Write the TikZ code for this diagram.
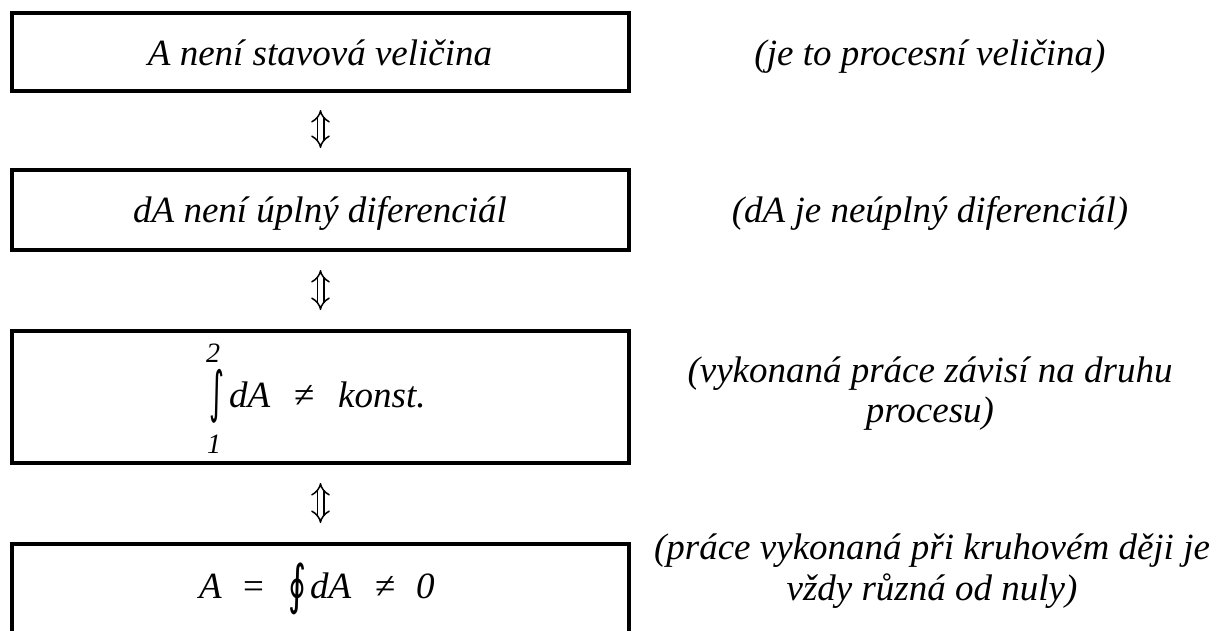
\documentclass[tikz,border=0pt]{standalone}
\usepackage{graphicx}
\usepackage{fontspec}
\setmainfont{Liberation Serif}
\newfontfamily\symfont{DejaVu Sans}
\usetikzlibrary{arrows.meta}
\begin{document}
\begin{tikzpicture}[x=1pt,y=-1pt,
  box/.style={draw, line width=4pt, minimum width=617pt, inner sep=0pt, outer sep=0pt},
  txt/.style={font=\fontsize{37}{42}\selectfont\itshape, inner sep=0pt, anchor=base},
  txtw/.style={font=\fontsize{37}{42}\selectfont\itshape, inner sep=0pt, anchor=base west},
  rmw/.style={font=\fontsize{37}{42}\selectfont, inner sep=0pt, anchor=base west},
  lim/.style={font=\fontsize{28}{32}\selectfont\itshape, inner sep=0pt, anchor=base west},
  intg/.style={inner sep=0pt, anchor=center},
  equiv/.style={double, double distance=5pt, line width=1.5pt, {Implies}-{Implies}}
]
\useasboundingbox (0,0) rectangle (1216,630);
\clip (0,0) rectangle (1216,630);
\fill[white] (0,0) rectangle (1216,630);

% boxes
\node[box, minimum height=78pt]  (b1) at (320.5,52) {};
\node[box, minimum height=80pt]  (b2) at (320.5,210) {};
\node[box, minimum height=132pt] (b3) at (320.5,397) {};
\node[box, minimum height=132pt] (b4) at (320.5,610) {};

% box texts
\node[txt] (t1) at (320,65) {A není stavová veličina};
\node[txt] (t2) at (320,222) {dA není úplný diferenciál};

% box 3 formula
\node[lim]  (u3) at (206,362) {2};
\node[intg] (i3) at (217,396.5) {\resizebox*{15pt}{54pt}{\symfont ∫}};
\node[lim]  (l3) at (207,453) {1};
\node[txtw] (d3) at (229,407) {dA};
\node[rmw]  (n3) at (294,407) {≠};
\node[txtw] (k3) at (338,407) {konst.};

% box 4 formula
\node[txtw] (a4) at (199,598) {A};
\node[rmw]  (e4) at (243,598) {=};
\node[intg] (i4) at (297,589) {\resizebox*{18pt}{52pt}{\symfont ∮}};
\node[txtw] (d4) at (310,598) {dA};
\node[rmw]  (n4) at (375,598) {≠};
\node[txtw] (z4) at (416,598) {0};

% notes
\node[txt] (r1)  at (930,65)  {(je to procesní veličina)};
\node[txt] (r2)  at (930,222) {(dA je neúplný diferenciál)};
\node[txt] (r3a) at (930,382) {(vykonaná práce závisí na druhu};
\node[txt] (r3b) at (930,422) {procesu)};
\node[txt] (r4a) at (932,559) {(práce vykonaná při kruhovém ději je};
\node[txt] (r4b) at (932,600) {vždy různá od nuly)};

% equivalence arrows
\draw[equiv, shorten <=19pt, shorten >=22pt] (b1.south) -- (b2.north);
\draw[equiv, shorten <=20pt, shorten >=21pt] (b2.south) -- (b3.north);
\draw[equiv, shorten <=20pt, shorten >=21pt] (b3.south) -- (b4.north);
\end{tikzpicture}
\end{document}
